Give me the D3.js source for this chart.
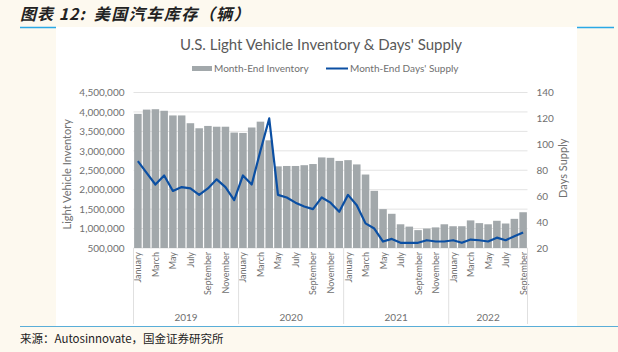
<!DOCTYPE html>
<html>
<head>
<meta charset="utf-8">
<script src="https://d3js.org/d3.v7.min.js"></script>
<style>
  body { margin: 0; background: #fdf9ef; }
  svg { display: block; }
</style>
</head>
<body>
<svg id="chart"></svg>
<script>
// Data
const years = ['2019', '2020', '2021', '2022'];
const monthNames = ['January', 'February', 'March', 'April', 'May', 'June', 'July',
  'August', 'September', 'October', 'November', 'December'];
const monthsPerYear = [12, 12, 12, 9];
const inventory = [
  3950000, 4060000, 4070000, 4030000, 3910000, 3910000, 3710000, 3580000, 3640000, 3620000, 3620000, 3470000,
  3460000, 3600000, 3750000, 3270000, 2600000, 2610000, 2610000, 2630000, 2660000, 2830000, 2820000, 2740000,
  2760000, 2650000, 2390000, 1970000, 1500000, 1380000, 1110000, 1050000, 960000, 1000000, 1030000, 1110000,
  1060000, 1060000, 1210000, 1140000, 1110000, 1200000, 1130000, 1250000, 1420000
];
const daysSupply = [
  87, 78, 69, 76, 64, 67, 66, 61, 66, 73, 67, 57,
  76, 69, 95, 120, 61, 59, 55, 52, 50, 59, 55, 48,
  61, 53, 39, 35, 25, 27, 24, 24, 24, 26, 25, 25,
  26, 24, 26.5, 26, 25, 28, 26, 29, 32
];
const leftTicks = [500000, 1000000, 1500000, 2000000, 2500000, 3000000, 3500000, 4000000, 4500000];
const rightTicks = [20, 40, 60, 80, 100, 120, 140];

// month keys
const months = [];
years.forEach((y, i) => {
  for (let m = 0; m < monthsPerYear[i]; m++) months.push({ key: y + '-' + m, year: y, m: m });
});

const W = 618, H = 352;
const svg = d3.select('#chart').attr('width', W).attr('height', H);

// header
const head = svg.append('text')
  .attr('x', 20).attr('y', 20)
  .attr('font-family', '"Noto Sans CJK SC", sans-serif')
  .attr('font-size', 16).attr('font-weight', 'bold').attr('font-style', 'italic')
  .attr('fill', '#222');
head.append('tspan').attr('letter-spacing', 1).text('图表 12:');
head.append('tspan').attr('dx', 8).attr('letter-spacing', 1.5).text('美国汽车库存（辆）');

// white chart panel
svg.append('rect').attr('x', 56).attr('y', 27).attr('width', 521).attr('height', 299).attr('fill', '#fff');
svg.append('line').attr('x1', 20).attr('x2', 56).attr('y1', 27.5).attr('y2', 27.5)
  .attr('stroke', '#2aa9e6').attr('stroke-width', 1.5);
svg.append('line').attr('x1', 577).attr('x2', 614).attr('y1', 27.5).attr('y2', 27.5)
  .attr('stroke', '#2aa9e6').attr('stroke-width', 1.5);
svg.append('line').attr('x1', 20).attr('x2', 618).attr('y1', 326.5).attr('y2', 326.5)
  .attr('stroke', '#5aaed8').attr('stroke-width', 1.2);

// footer
svg.append('text')
  .attr('x', 20).attr('y', 343)
  .attr('font-family', '"Noto Sans CJK SC", sans-serif')
  .attr('font-size', 11.5).attr('fill', '#222')
  .text('来源：Autosinnovate，国金证券研究所');

const font = 'Lato, "Open Sans", sans-serif';
const textGray = '#707070';

// chart title
svg.append('text')
  .attr('x', 321).attr('y', 50)
  .attr('text-anchor', 'middle')
  .attr('font-family', font).attr('font-size', 15).attr('fill', '#595959')
  .text("U.S. Light Vehicle Inventory & Days' Supply");

// legend
const legend = svg.append('g').attr('font-family', font).attr('font-size', 10).attr('fill', textGray);
legend.append('rect').attr('x', 192).attr('y', 66).attr('width', 20).attr('height', 5).attr('fill', '#a2a8ab');
legend.append('text').attr('x', 214).attr('y', 72).text('Month-End Inventory');
legend.append('line').attr('x1', 326).attr('x2', 348).attr('y1', 68.5).attr('y2', 68.5)
  .attr('stroke', '#0b4fa3').attr('stroke-width', 2);
legend.append('text').attr('x', 350).attr('y', 72).text("Month-End Days' Supply");

// scales
const plotL = 133.5, plotR = 527.5, plotT = 92.5, plotB = 248;
const x = d3.scaleBand().domain(months.map(d => d.key)).range([plotL, plotR]).paddingInner(0.14).paddingOuter(0.07);
const yL = d3.scaleLinear().domain([500000, 4500000]).range([plotB, plotT]);
const yR = d3.scaleLinear().domain([20, 140]).range([plotB, plotT]);

// gridlines
svg.append('g').selectAll('line').data(leftTicks).join('line')
  .attr('x1', plotL).attr('x2', plotR)
  .attr('y1', d => yL(d)).attr('y2', d => yL(d))
  .attr('stroke', '#e3e3e3').attr('stroke-width', 1);

// left axis
const axL = svg.append('g').attr('transform', `translate(${plotL - 9},0)`)
  .call(d3.axisLeft(yL).tickValues(leftTicks).tickFormat(d3.format(',')).tickSize(0).tickPadding(0));
axL.select('.domain').remove();
axL.selectAll('text').attr('font-family', font).attr('font-size', 10).attr('fill', textGray);

// right axis
const axR = svg.append('g').attr('transform', `translate(${plotR + 9},0)`)
  .call(d3.axisRight(yR).tickValues(rightTicks).tickSize(0).tickPadding(0));
axR.select('.domain').remove();
axR.selectAll('text').attr('font-family', font).attr('font-size', 10).attr('fill', textGray);

// axis titles
svg.append('text')
  .attr('transform', `translate(71,${(plotT + plotB) / 2 + 4}) rotate(-90)`)
  .attr('text-anchor', 'middle')
  .attr('font-family', font).attr('font-size', 11).attr('fill', textGray)
  .text('Light Vehicle Inventory');
svg.append('text')
  .attr('transform', `translate(567,${(plotT + plotB) / 2 - 2}) rotate(-90)`)
  .attr('text-anchor', 'middle')
  .attr('font-family', font).attr('font-size', 11).attr('fill', textGray)
  .text('Days Supply');

// bars
svg.append('g').selectAll('rect').data(months).join('rect')
  .attr('x', d => x(d.key))
  .attr('width', x.bandwidth())
  .attr('y', (d, i) => yL(inventory[i]))
  .attr('height', (d, i) => plotB - yL(inventory[i]))
  .attr('fill', '#a2a8ab');

// days supply line
const line = d3.line()
  .x(d => x(d.key) + x.bandwidth() / 2)
  .y((d, i) => yR(daysSupply[i]));
svg.append('path').datum(months)
  .attr('d', line)
  .attr('fill', 'none')
  .attr('stroke', '#0b4fa3')
  .attr('stroke-width', 2.2)
  .attr('stroke-linejoin', 'round');

// month labels (every other month)
svg.append('g').selectAll('text').data(months.filter(d => d.m % 2 === 0)).join('text')
  .attr('transform', d => `translate(${x(d.key) + x.bandwidth() / 2 + 3.5},${plotB + 4}) rotate(-90)`)
  .attr('text-anchor', 'end')
  .attr('font-family', font).attr('font-size', 9).attr('fill', textGray)
  .text(d => monthNames[d.m]);

// year separators and labels
const step = x.step();
let offset = 0;
const bounds = [];
monthsPerYear.forEach((n, i) => {
  const k0 = months[offset].key;
  const k1 = months[offset + n - 1].key;
  bounds.push({ year: years[i], x0: x(k0) - step * 0.07, x1: x(k1) + x.bandwidth() + step * 0.07 });
  offset += n;
});
const seps = [bounds[0].x0].concat(bounds.map(b => b.x1));
svg.append('g').selectAll('line').data(seps).join('line')
  .attr('x1', d => d).attr('x2', d => d)
  .attr('y1', plotB).attr('y2', 324)
  .attr('stroke', '#e0e0e0').attr('stroke-width', 1);
svg.append('g').selectAll('text').data(bounds).join('text')
  .attr('x', d => (d.x0 + d.x1) / 2).attr('y', 321)
  .attr('text-anchor', 'middle')
  .attr('font-family', font).attr('font-size', 10).attr('fill', textGray)
  .text(d => d.year);
</script>
</body>
</html>
